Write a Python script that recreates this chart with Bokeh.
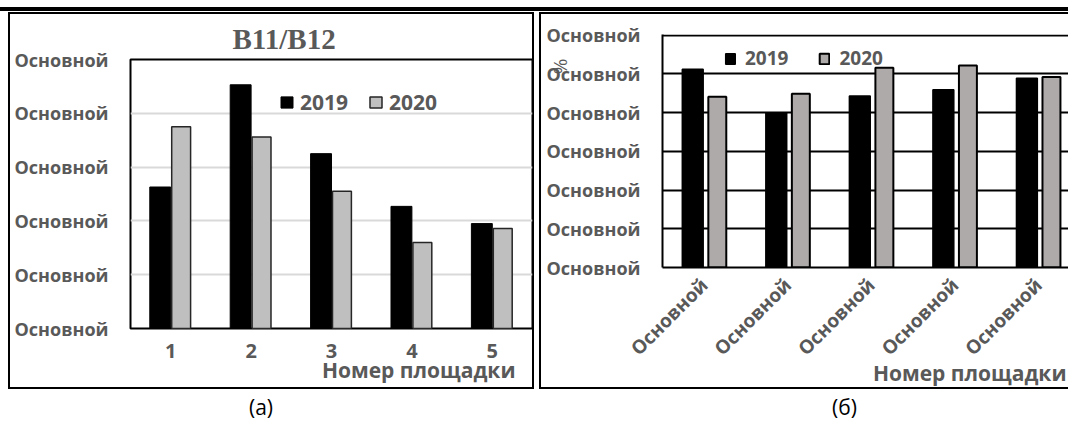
import math
from bokeh.plotting import figure
from bokeh.models import ColumnDataSource, FixedTicker, Legend, LegendItem, Title, Div, Range1d
from bokeh.layouts import column, row
from bokeh.transform import dodge
from bokeh.embed import file_html
from bokeh.resources import INLINE

# ---------------- data ----------------
sites = [1, 2, 3, 4, 5]
series_names = ["2019", "2020"]

a_2019 = [2.63, 4.53, 3.25, 2.27, 1.95]
a_2020 = [3.75, 3.56, 2.55, 1.60, 1.86]
a_x_labels = ["1", "2", "3", "4", "5"]
a_y_ticks = [0, 1, 2, 3, 4, 5]
a_y_labels = ["Основной"] * 6
a_title = "B11/B12"

b_2019 = [5.12, 4.00, 4.43, 4.59, 4.89]
b_2020 = [4.41, 4.49, 5.16, 5.22, 4.92]
b_x_labels = ["Основной"] * 5
b_y_ticks = [0, 1, 2, 3, 4, 5, 6]
b_y_labels = ["Основной"] * 7
b_unit = "%"

x_title = "Номер площадки"
captions = ["(а)", "(б)"]

# ---------------- styles ----------------
FONT = "Open Sans"
GREY = "#595959"


def style_axes(p, xticks, xlabels, yticks, ylabels, xsize, ysize, xstand, ystand):
    xa = p.xaxis[0]
    xa.ticker = FixedTicker(ticks=xticks)
    xa.major_label_overrides = {t: l for t, l in zip(xticks, xlabels)}
    ya = p.yaxis[0]
    ya.ticker = FixedTicker(ticks=yticks)
    ya.major_label_overrides = {t: l for t, l in zip(yticks, ylabels)}
    for ax, sz, st in ((xa, xsize, xstand), (ya, ysize, ystand)):
        ax.major_tick_line_color = None
        ax.minor_tick_line_color = None
        ax.major_tick_out = 0
        ax.major_tick_in = 0
        ax.minor_tick_out = 0
        ax.minor_tick_in = 0
        ax.major_label_text_font = FONT
        ax.major_label_text_font_size = sz
        ax.major_label_text_font_style = "bold"
        ax.major_label_text_color = GREY
        ax.major_label_standoff = st


def make_legend(r1, r2, loc, size, gw, gh, standoff, spacing):
    return Legend(
        items=[LegendItem(label=series_names[0], renderers=[r1]),
               LegendItem(label=series_names[1], renderers=[r2])],
        orientation="horizontal", location=loc,
        glyph_width=gw, glyph_height=gh, label_standoff=standoff, spacing=spacing,
        padding=0, margin=0, border_line_color=None, background_fill_alpha=0,
        label_text_font=FONT, label_text_font_size=size, label_text_font_style="bold",
        label_text_color=GREY, label_height=gh,
    )


def text_title(text, align, offset, valign, standoff, size, font=FONT, style="bold"):
    return Title(text=text, align=align, offset=offset, vertical_align=valign,
                 standoff=standoff, text_font=font, text_font_size=size,
                 text_font_style=style, text_color=GREY)


# ---------------- panel (a) ----------------
src_a = ColumnDataSource(dict(site=sites, y2019=a_2019, y2020=a_2020))
pa = figure(width=526, height=377, x_range=Range1d(0.5, 5.5), y_range=Range1d(0, 5),
            output_backend="svg", toolbar_location=None,
            min_border_left=122, min_border_right=2, min_border_top=47, min_border_bottom=61,
            border_fill_color=None, background_fill_color="white",
            outline_line_color="black", outline_line_width=2)
pa.styles = {"box-shadow": "inset 0 0 0 2px black"}
ra1 = pa.vbar(x=dodge("site", -0.13), top="y2019", bottom=0, width=0.26, source=src_a,
              fill_color="black", line_color="black", line_width=1)
ra2 = pa.vbar(x=dodge("site", 0.13), top="y2020", bottom=0, width=0.235, source=src_a,
              fill_color="#bfbfbf", line_color="#262626", line_width=1.5)
style_axes(pa, sites, a_x_labels, a_y_ticks, a_y_labels, "20px", "18px", 15, 22)
pa.xaxis.axis_line_color = None
pa.yaxis.axis_line_color = None
pa.xgrid.grid_line_color = None
pa.ygrid.grid_line_color = "#d9d9d9"
pa.ygrid.grid_line_width = 2
pa.add_layout(make_legend(ra1, ra2, (149, 212), "21px", 15, 14, 6, 20))
pa.add_layout(text_title(a_title, "left", 102, "bottom", 10, "29px", font="Liberation Serif"), "above")
pa.add_layout(text_title(x_title, "right", 17, "top", -10, "21px"), "below")

# ---------------- panel (б) ----------------
src_b = ColumnDataSource(dict(site=sites, y2019=b_2019, y2020=b_2020))
pb = figure(width=529, height=377, x_range=Range1d(0.5, 5.36), y_range=Range1d(0, 6.02),
            output_backend="svg", toolbar_location=None,
            min_border_left=123, min_border_right=0, min_border_top=22, min_border_bottom=122,
            border_fill_color=None, background_fill_color="white",
            outline_line_color=None)
pb.styles = {"box-shadow": "inset 2px 2px 0 0 black, inset 0 -2px 0 0 black"}
rb1 = pb.vbar(x=dodge("site", -0.138), top="y2019", bottom=0, width=0.25, source=src_b,
              fill_color="black", line_color="black", line_width=1.5)
rb2 = pb.vbar(x=dodge("site", 0.156), top="y2020", bottom=0, width=0.215, source=src_b,
              fill_color="#aeaaaa", line_color="black", line_width=2)
style_axes(pb, sites, b_x_labels, b_y_ticks, b_y_labels, "19px", "18px", 14, 22)
pb.xaxis.major_label_orientation = math.pi / 4
pb.xaxis.axis_line_color = "black"
pb.xaxis.axis_line_width = 2
pb.yaxis.axis_line_color = "black"
pb.yaxis.axis_line_width = 2
pb.xgrid.grid_line_color = None
pb.ygrid.grid_line_color = "black"
pb.ygrid.grid_line_width = 2
pb.add_layout(make_legend(rb1, rb2, (62, 196), "19px", 12, 13, 9, 30))
pb.add_layout(text_title(x_title, "right", 2, "top", -30, "21px"), "below")
pb.add_layout(text_title(b_unit, "right", 24, "bottom", -58, "19px", style="normal"), "left")

# ---------------- page ----------------
band = Div(text="", width=1068, height=4, margin=(7, 0, 1, 0),
           styles={"background-color": "black"})
col_a = column(pa, margin=(0, 0, 0, 8))
col_b = column(pb, margin=(0, 0, 0, 5))
cap_style = {"font-family": FONT, "font-size": "21px", "color": "black"}
caps = row(
    Div(text=captions[0], width=40, height=30, margin=(3, 0, 0, 249), styles=cap_style),
    Div(text=captions[1], width=40, height=30, margin=(3, 0, 0, 543), styles=cap_style),
)
layout = column(band, row(col_a, col_b), caps)

open("out.html", "w").write(file_html(layout, INLINE))
